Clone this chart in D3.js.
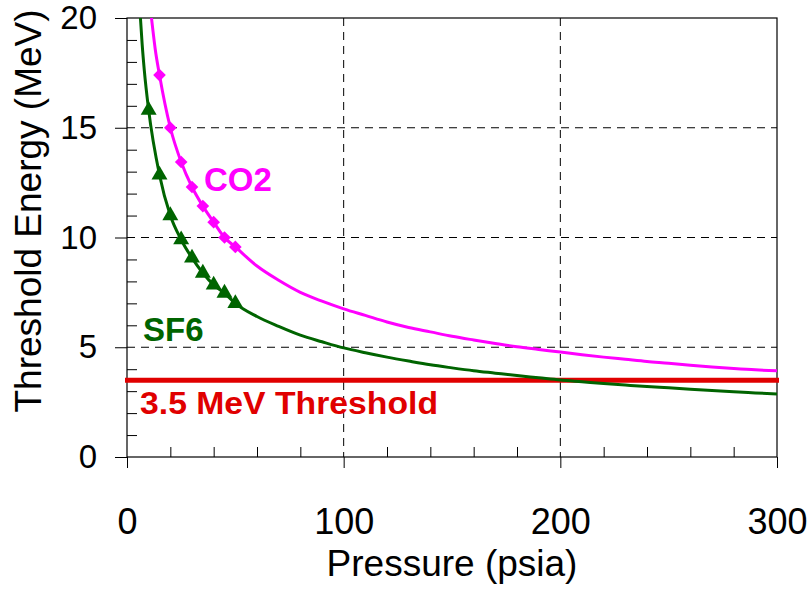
<!DOCTYPE html>
<html>
<head>
<meta charset="utf-8">
<script src="https://cdn.jsdelivr.net/npm/d3@7"></script>
<style>
  body { margin: 0; background: #fff; }
  text { font-family: "Liberation Sans", Arial, sans-serif; }
</style>
</head>
<body>
<div id="chart-area"></div>
<script>
// values
const sf6Pressure = [6.2, 7, 8, 10, 15, 20, 25, 30, 35, 40, 45, 50, 60, 70, 80, 90, 100, 110, 120, 130, 140, 150,
  160, 170, 180, 190, 200, 210, 220, 230, 240, 250, 260, 270, 280, 290, 300]
const sf6Energy = [20, 18.8, 17.6, 15.8, 12.85, 11.0, 9.9, 9.07, 8.38, 7.84, 7.47, 7.0, 6.4, 5.95, 5.55, 5.25, 4.97,
  4.75, 4.55, 4.37, 4.2, 4.06, 3.93, 3.82, 3.71, 3.61, 3.51, 3.43, 3.35, 3.28, 3.21, 3.15, 3.09, 3.03, 2.97, 2.92, 2.87]
const sf6Markers = [10, 15, 20, 25, 30, 35, 40, 45, 50]

const co2Pressure = [11.3, 12, 13, 15, 20, 25, 30, 35, 40, 45, 50, 60, 70, 80, 90, 100, 110, 120, 130, 140, 150,
  160, 170, 180, 190, 200, 210, 220, 230, 240, 250, 260, 270, 280, 290, 300]
const co2Energy = [20, 19.4, 18.6, 17.4, 15.0, 13.44, 12.3, 11.43, 10.7, 10.0, 9.57, 8.7, 8.05, 7.5, 7.1, 6.75,
  6.45, 6.15, 5.9, 5.7, 5.5, 5.33, 5.17, 5.02, 4.9, 4.78, 4.66, 4.55, 4.45, 4.35, 4.27, 4.18, 4.1, 4.03, 3.97, 3.93]
const co2Markers = [15, 20, 25, 30, 35, 40, 45, 50]

const threshold = 3.5
const xTicks = [0, 100, 200, 300]
const yTicks = [0, 5, 10, 15, 20]

const MARGIN = { LEFT: 127, RIGHT: 35, TOP: 18, BOTTOM: 135 }
const WIDTH = 812 - MARGIN.LEFT - MARGIN.RIGHT
const HEIGHT = 592 - MARGIN.TOP - MARGIN.BOTTOM

const GREEN = "#006400"
const MAGENTA = "#ff00ff"
const RED = "#e00000"

const svg = d3.select("#chart-area").append("svg")
  .attr("width", 812)
  .attr("height", 592)

const g = svg.append("g")
  .attr("transform", `translate(${MARGIN.LEFT}, ${MARGIN.TOP})`)

const x = d3.scaleLinear().domain([0, 300]).range([0, WIDTH])
const y = d3.scaleLinear().domain([0, 20]).range([HEIGHT, 0])

g.append("clipPath").attr("id", "plot-clip")
  .append("rect").attr("width", WIDTH).attr("height", HEIGHT)

// dashed grid
g.append("g").selectAll("line")
  .data(yTicks.filter(d => d > 0 && d < 20))
  .enter().append("line")
    .attr("x1", 0).attr("x2", WIDTH)
    .attr("y1", d => y(d)).attr("y2", d => y(d))
    .attr("stroke", "#000").attr("stroke-dasharray", "8,6")
g.append("g").selectAll("line")
  .data(xTicks.filter(d => d > 0 && d < 300))
  .enter().append("line")
    .attr("x1", d => x(d)).attr("x2", d => x(d))
    .attr("y1", 0).attr("y2", HEIGHT)
    .attr("stroke", "#000").attr("stroke-dasharray", "8,6")

// frame
g.append("rect")
  .attr("width", WIDTH).attr("height", HEIGHT)
  .attr("fill", "none").attr("stroke", "#000").attr("stroke-width", 1.2)

// x axis: major ticks outside, minor inside
const xAxisCall = d3.axisBottom(x).tickValues(xTicks).tickSize(11).tickPadding(40)
g.append("g")
  .attr("class", "x-axis")
  .attr("transform", `translate(0, ${HEIGHT})`)
  .call(xAxisCall)
  .call(a => a.select(".domain").remove())
  .selectAll("text")
    .attr("font-size", "36px")
    .attr("fill", "#000")
g.append("g")
  .attr("transform", `translate(0, ${HEIGHT})`)
  .call(d3.axisTop(x).tickValues(d3.range(20, 300, 20).filter(d => d % 100)).tickSize(10).tickFormat(""))
  .call(a => a.select(".domain").remove())

const yAxisCall = d3.axisLeft(y).tickValues(yTicks).tickSize(12).tickPadding(18)
g.append("g")
  .attr("class", "y-axis")
  .call(yAxisCall)
  .call(a => a.select(".domain").remove())
  .selectAll("text")
    .attr("font-size", "33px")
    .attr("fill", "#000")
g.append("g")
  .call(d3.axisRight(y).tickValues(d3.range(1, 20).filter(d => d % 5)).tickSize(10).tickFormat(""))
  .call(a => a.select(".domain").remove())

// X label
g.append("text")
  .attr("x", WIDTH / 2)
  .attr("y", HEIGHT + 119)
  .attr("font-size", "37px")
  .attr("text-anchor", "middle")
  .text("Pressure (psia)")

// Y label
g.append("text")
  .attr("x", -193)
  .attr("y", -86)
  .attr("font-size", "37px")
  .attr("text-anchor", "middle")
  .attr("transform", "rotate(-90)")
  .text("Threshold Energy (MeV)")

const line = d3.line()
  .x(d => x(d[0]))
  .y(d => y(d[1]))
  .curve(d3.curveMonotoneX)

const series = [
  { name: "SF6", p: sf6Pressure, e: sf6Energy, marks: sf6Markers, color: GREEN, symbol: d3.symbolTriangle, size: 110, rot: 0 },
  { name: "CO2", p: co2Pressure, e: co2Energy, marks: co2Markers, color: MAGENTA, symbol: d3.symbolSquare, size: 80, rot: 45 }
]

// threshold line
g.append("line")
  .attr("x1", -2).attr("x2", WIDTH + 2)
  .attr("y1", y(threshold)).attr("y2", y(threshold))
  .attr("stroke", RED).attr("stroke-width", 5)

series.forEach(s => {
  const pts = s.p.map((p, i) => [p, s.e[i]])
  g.append("path")
    .datum(pts)
    .attr("clip-path", "url(#plot-clip)")
    .attr("fill", "none")
    .attr("stroke", s.color)
    .attr("stroke-width", 3)
    .attr("d", line)
  g.append("g").selectAll("path")
    .data(pts.filter(d => s.marks.includes(d[0])))
    .enter().append("path")
      .attr("transform", d => `translate(${x(d[0])}, ${y(d[1])}) rotate(${s.rot})`)
      .attr("d", d3.symbol().type(s.symbol).size(s.size))
      .attr("fill", s.color)
})

// series labels
g.append("text")
  .attr("x", x(35.5)).attr("y", y(12.1))
  .attr("font-size", "33px").attr("font-weight", "bold")
  .attr("fill", MAGENTA)
  .text("CO2")
g.append("text")
  .attr("x", x(7.4)).attr("y", y(5.3))
  .attr("font-size", "33px").attr("font-weight", "bold")
  .attr("fill", GREEN)
  .text("SF6")
g.append("text")
  .attr("x", x(6)).attr("y", y(1.95))
  .attr("font-size", "32px").attr("font-weight", "bold")
  .attr("textLength", 298)
  .attr("lengthAdjust", "spacingAndGlyphs")
  .attr("fill", RED)
  .text("3.5 MeV Threshold")
</script>
</body>
</html>
